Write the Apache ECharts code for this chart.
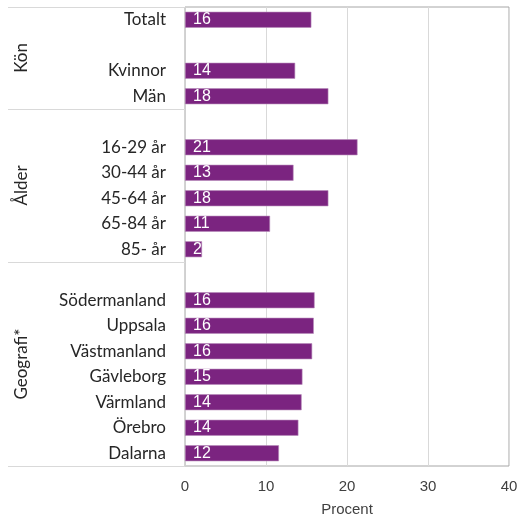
<!DOCTYPE html>
<html>
<head>
<meta charset="utf-8">
<script src="https://cdn.jsdelivr.net/npm/echarts@6/dist/echarts.min.js"></script>
<style>
  html, body { margin: 0; padding: 0; background: #fff; }
  #chart { width: 518px; height: 517px; }
</style>
</head>
<body>
<div id="chart"></div>
<script>
// Rows top to bottom; blank rows are spacers between the groups
const categories = [
  'Totalt', ' ', 'Kvinnor', 'Män',
  '  ', '16-29 år', '30-44 år', '45-64 år', '65-84 år', '85- år',
  '   ', 'Södermanland', 'Uppsala', 'Västmanland', 'Gävleborg', 'Värmland', 'Örebro', 'Dalarna'
];
// Share in percent (null for spacer rows)
const values = [
  15.6, null, 13.6, 17.7,
  null, 21.3, 13.4, 17.7, 10.5, 2.1,
  null, 16.0, 15.9, 15.7, 14.5, 14.4, 14.0, 11.6
];
// Group titles and the first/last row index of each group
const groupNames = ['Kön', 'Ålder', 'Geografi*'];
const groupStart = [0, 4, 10];
const groupEnd = [3, 9, 17];
// X axis ticks
const xTicks = [0, 10, 20, 30, 40];

const barColor = '#7b2480';
const chart = echarts.init(document.getElementById('chart'));

const gridTop = 7, gridBottom = 51, gridLeft = 185, gridRight = 9;

chart.setOption({
  animation: false,
  grid: {
    left: gridLeft, right: gridRight, top: gridTop, bottom: gridBottom,
    outerBoundsMode: 'none', containLabel: false,
    show: true, borderColor: '#a6a6a6', borderWidth: 1
  },
  xAxis: {
    type: 'value',
    min: xTicks[0], max: xTicks[xTicks.length - 1], interval: xTicks[1] - xTicks[0],
    name: 'Procent', nameLocation: 'middle', nameGap: 36,
    nameTextStyle: { fontFamily: 'Liberation Sans', fontSize: 15, color: '#404040' },
    axisLine: { show: false },
    axisTick: { show: false },
    axisLabel: { fontFamily: 'Liberation Sans', fontSize: 15, color: '#404040', margin: 13 },
    splitLine: { lineStyle: { color: '#d9d9d9', width: 1 } }
  },
  yAxis: {
    type: 'category', data: categories, inverse: true,
    axisLine: { show: true, lineStyle: { color: '#d0d0d0' } },
    axisTick: { show: false },
    axisLabel: { fontFamily: 'Lato', fontSize: 17, color: '#262626', margin: 19 },
    splitLine: { show: false }
  },
  series: [{
    type: 'bar',
    data: values,
    barWidth: 16,
    itemStyle: { color: barColor, borderColor: '#b88bbb', borderWidth: 0.6 },
    label: {
      show: true, position: 'insideLeft', distance: 8,
      fontFamily: 'Liberation Sans', fontSize: 16, color: '#ffffff',
      formatter: p => Math.round(p.value)
    }
  }]
});

// Group separators and rotated group titles, placed from the category scale
const plotBottom = 517 - gridBottom;
const band = (plotBottom - gridTop) / categories.length;
const yOf = i => chart.convertToPixel({ yAxisIndex: 0 }, i);
const lineLeft = 8;
const graphics = [];
const boundaries = [yOf(0) - band / 2];
groupEnd.forEach(e => boundaries.push(yOf(e) + band / 2));
boundaries.forEach(y => {
  graphics.push({
    type: 'line', silent: true,
    shape: { x1: lineLeft, y1: Math.round(y) + 0.5, x2: gridLeft, y2: Math.round(y) + 0.5 },
    style: { stroke: '#d9d9d9', lineWidth: 1 }
  });
});
groupNames.forEach((g, k) => {
  const yc = (yOf(groupStart[k]) + yOf(groupEnd[k])) / 2;
  graphics.push({
    type: 'text', silent: true,
    x: 22, y: yc, rotation: Math.PI / 2,
    style: {
      text: g, fontFamily: 'Lato', fontSize: 17, fill: '#262626',
      align: 'center', verticalAlign: 'middle'
    }
  });
});
chart.setOption({ graphic: graphics });
</script>
</body>
</html>
